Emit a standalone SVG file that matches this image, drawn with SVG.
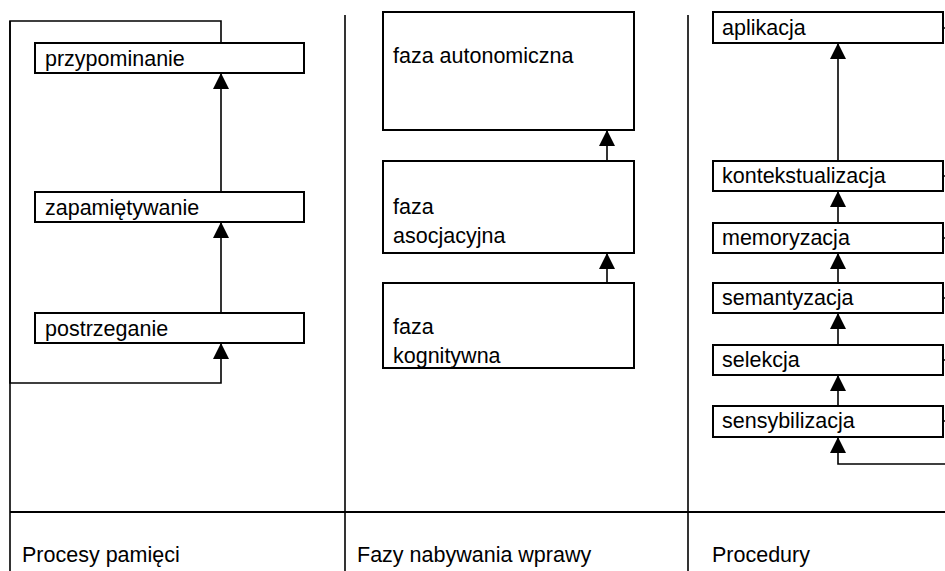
<svg xmlns="http://www.w3.org/2000/svg" width="945" height="571" viewBox="0 0 945 571">
<style>
.box{fill:#fff;stroke:#000;stroke-width:2}
.t{font-family:"Liberation Sans",Arial,sans-serif;font-size:21.5px;fill:#000}
.c{fill:none;stroke:#000;stroke-width:1.6}
.sep{fill:none;stroke:#000;stroke-width:1.6}
</style>
<defs>
<marker id="ah" markerUnits="userSpaceOnUse" markerWidth="16" markerHeight="16" viewBox="0 0 16 16" refX="15" refY="8" orient="auto">
<path d="M0,0 L16,8 L0,16 Z" fill="#000"/>
</marker>
</defs>
<rect width="945" height="571" fill="#fff"/>
<g id="frame">
<line class="sep" x1="10" y1="21" x2="10" y2="571"/>
<line class="sep" x1="345" y1="15" x2="345" y2="571"/>
<line class="sep" x1="688" y1="15" x2="688" y2="571"/>
<line x1="10" y1="512" x2="945" y2="512" stroke="#000" stroke-width="2"/>
</g>
<g id="connectors">
<path class="c" d="M221,43 V21 H10 V383 H221 V344" marker-end="url(#ah)"/>
<path class="c" d="M221,192 V74" marker-end="url(#ah)"/>
<path class="c" d="M221,313 V223" marker-end="url(#ah)"/>
<path class="c" d="M607,161 V131" marker-end="url(#ah)"/>
<path class="c" d="M607,283 V254" marker-end="url(#ah)"/>
<path class="c" d="M838,161 V44" marker-end="url(#ah)"/>
<path class="c" d="M838,223 V192" marker-end="url(#ah)"/>
<path class="c" d="M838,283 V254" marker-end="url(#ah)"/>
<path class="c" d="M838,345 V314" marker-end="url(#ah)"/>
<path class="c" d="M838,406 V376" marker-end="url(#ah)"/>
<path class="c" d="M945,464 H838 V438" marker-end="url(#ah)"/>
<path class="c" d="M943,28 H945 M943,176 H945 M943,238 H945 M943,298 H945 M943,360 H945 M943,421 H945"/>
</g>
<g id="przypominanie"><rect class="box" x="35" y="43" width="269" height="30"/><text class="t" x="45" y="66">przypominanie</text></g>
<g id="zapamietywanie"><rect class="box" x="35" y="192" width="269" height="30"/><text class="t" x="45" y="215">zapamiętywanie</text></g>
<g id="postrzeganie"><rect class="box" x="35" y="313" width="269" height="30"/><text class="t" x="45" y="336">postrzeganie</text></g>
<g id="faza-autonomiczna"><rect class="box" x="383" y="12" width="251" height="118"/><text class="t" x="393" y="63">faza autonomiczna</text></g>
<g id="faza-asocjacyjna"><rect class="box" x="383" y="161" width="251" height="92"/><text class="t" x="393" y="214">faza</text><text class="t" x="393" y="243">asocjacyjna</text></g>
<g id="faza-kognitywna"><rect class="box" x="383" y="283" width="251" height="85"/><text class="t" x="393" y="334">faza</text><text class="t" x="393" y="363">kognitywna</text></g>
<g id="aplikacja"><rect class="box" x="713" y="12" width="230" height="31"/><text class="t" x="722" y="35">aplikacja</text></g>
<g id="kontekstualizacja"><rect class="box" x="713" y="161" width="230" height="30"/><text class="t" x="722" y="183">kontekstualizacja</text></g>
<g id="memoryzacja"><rect class="box" x="713" y="223" width="230" height="30"/><text class="t" x="722" y="245">memoryzacja</text></g>
<g id="semantyzacja"><rect class="box" x="713" y="283" width="230" height="30"/><text class="t" x="722" y="305">semantyzacja</text></g>
<g id="selekcja"><rect class="box" x="713" y="345" width="230" height="30"/><text class="t" x="722" y="367">selekcja</text></g>
<g id="sensybilizacja"><rect class="box" x="713" y="406" width="230" height="31"/><text class="t" x="722" y="428">sensybilizacja</text></g>
<g id="labels">
<text class="t" x="22" y="562">Procesy pamięci</text>
<text class="t" x="357" y="562">Fazy nabywania wprawy</text>
<text class="t" x="712" y="562">Procedury</text>
</g>
</svg>
